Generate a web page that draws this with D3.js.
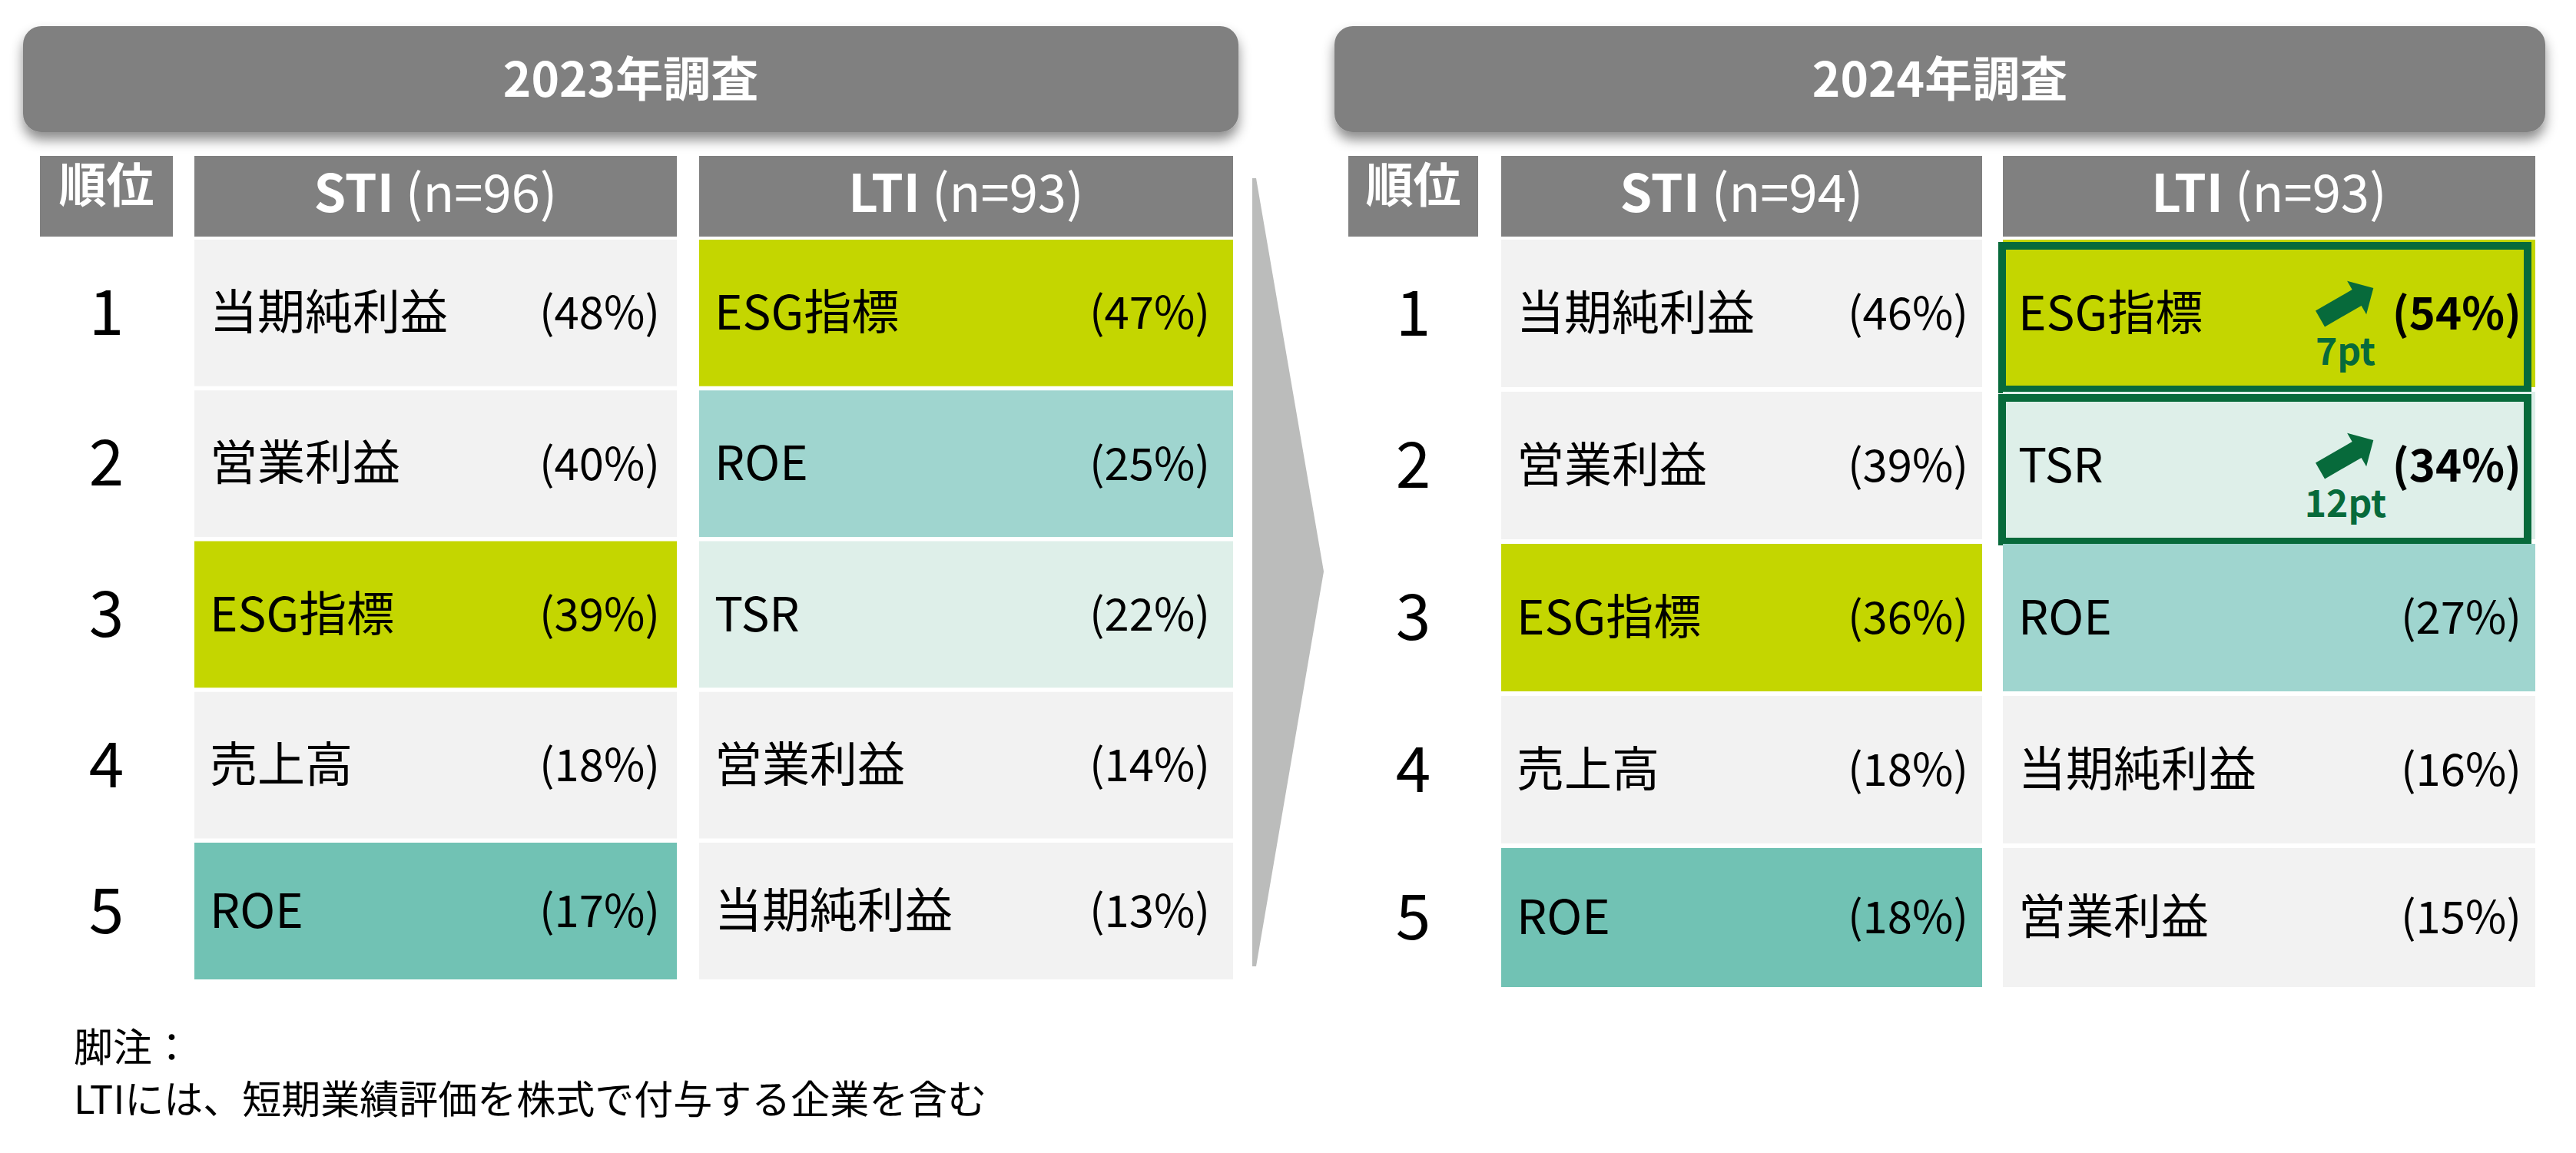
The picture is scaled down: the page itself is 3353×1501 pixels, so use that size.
<!DOCTYPE html>
<html>
<head>
<meta charset="utf-8">
<script src="https://cdn.jsdelivr.net/npm/d3@7"></script>
<style>
  body { margin: 0; background: #fff; }
  text { font-family: "Noto Sans CJK JP", "Noto Sans", sans-serif; }
</style>
</head>
<body>
<div class="chart"></div>
<script>
var width = 3353;
var height = 1501;

// data
var panelTitles = ["2023年調査", "2024年調査"];
var ranks = [1, 2, 3, 4, 5];
var stiN = [96, 94];
var ltiN = [93, 93];

var sti2023Labels = ["当期純利益", "営業利益", "ESG指標", "売上高", "ROE"];
var sti2023Values = [48, 40, 39, 18, 17];
var lti2023Labels = ["ESG指標", "ROE", "TSR", "営業利益", "当期純利益"];
var lti2023Values = [47, 25, 22, 14, 13];

var sti2024Labels = ["当期純利益", "営業利益", "ESG指標", "売上高", "ROE"];
var sti2024Values = [46, 39, 36, 18, 18];
var lti2024Labels = ["ESG指標", "TSR", "ROE", "当期純利益", "営業利益"];
var lti2024Values = [54, 34, 27, 16, 15];

// 2024 LTI risers (pt up vs 2023)
var riseLabels = ["ESG指標", "TSR"];
var riseValues = [7, 12];

var footnoteLines = ["脚注：", "LTIには、短期業績評価を株式で付与する企業を含む"];

// layout
var panels = [
  { banner: [30, 1612], rank: [52, 225], sti: [253, 881], lti: [910, 1605],
    rowRange: [312, 1287.75], gap: 5.5, bottom: 1275, padR: { sti: 22, lti: 30 },
    stiLabels: sti2023Labels, stiValues: sti2023Values,
    ltiLabels: lti2023Labels, ltiValues: lti2023Values, highlight: false },
  { banner: [1737, 3313], rank: [1755, 1924], sti: [1954, 2580], lti: [2607, 3300],
    rowRange: [312, 1296], gap: 6, bottom: 1285, padR: { sti: 18, lti: 18 },
    stiLabels: sti2024Labels, stiValues: sti2024Values,
    ltiLabels: lti2024Labels, ltiValues: lti2024Values, highlight: true }
];

var headerTop = 203, headerBottom = 308;
var bannerTop = 34, bannerBottom = 172;

var greyHead = "#808080";
var green = "#076a3b";

function cellColor(label, kind) {
  if (label === "ESG指標") return "#c4d600";
  if (label === "ROE") return kind === "sti" ? "#71c2b4" : "#9fd5cf";
  if (label === "TSR") return "#deefe9";
  return "#f2f2f2";
}

var svg = d3.select(".chart").append("svg")
    .attr("width", width)
    .attr("height", height);

var defs = svg.append("defs");
var shadow = defs.append("filter").attr("id", "shadow")
    .attr("x", "-5%").attr("y", "-20%").attr("width", "110%").attr("height", "160%");
shadow.append("feDropShadow")
    .attr("dx", 0).attr("dy", 10).attr("stdDeviation", 8)
    .attr("flood-color", "#000").attr("flood-opacity", 0.45);

// chevron between the two years
svg.append("path")
    .attr("d", "M1630,232 L1635,232 L1723,744 L1635,1258 L1630,1258 Z")
    .attr("fill", "#bbbcbb");

panels.forEach(function(p, pi) {
  var g = svg.append("g").attr("class", "panel");

  // banner
  g.append("rect")
      .attr("x", p.banner[0]).attr("y", bannerTop)
      .attr("width", p.banner[1] - p.banner[0]).attr("height", bannerBottom - bannerTop)
      .attr("rx", 24).attr("ry", 24)
      .attr("fill", greyHead)
      .attr("filter", "url(#shadow)");
  g.append("text")
      .attr("x", (p.banner[0] + p.banner[1]) / 2).attr("y", 104)
      .attr("dy", "0.36em")
      .attr("text-anchor", "middle")
      .attr("fill", "#fff").attr("font-size", 62).attr("font-weight", 700)
      .text(panelTitles[pi]);

  // header row
  var heads = [
    { col: p.rank, kind: "rank" },
    { col: p.sti, kind: "sti", name: "STI", n: stiN[pi] },
    { col: p.lti, kind: "lti", name: "LTI", n: ltiN[pi] }
  ];
  heads.forEach(function(h) {
    g.append("rect")
        .attr("x", h.col[0]).attr("y", headerTop)
        .attr("width", h.col[1] - h.col[0]).attr("height", headerBottom - headerTop)
        .attr("fill", greyHead);
    if (h.kind === "rank") {
      g.append("text")
          .attr("x", (h.col[0] + h.col[1]) / 2).attr("y", 242)
          .attr("dy", "0.36em").attr("text-anchor", "middle")
          .attr("fill", "#fff").attr("font-size", 62).attr("font-weight", 700)
          .text("順位");
    } else {
      var t = g.append("text")
          .attr("x", (h.col[0] + h.col[1]) / 2).attr("y", 253)
          .attr("dy", "0.35em").attr("text-anchor", "middle")
          .attr("fill", "#fff").attr("font-size", 67);
      t.append("tspan").attr("font-weight", 700).text(h.name);
      t.append("tspan").text(" (n=" + h.n + ")");
    }
  });

  // rows
  var y = d3.scaleBand()
      .domain(ranks)
      .range(p.rowRange)
      .paddingInner(p.gap / ((p.rowRange[1] - p.rowRange[0] + p.gap) / ranks.length))
      .paddingOuter(0);

  function rowH(r) { return Math.min(y.bandwidth(), p.bottom - y(r)); }
  function rowMid(r) { return y(r) + rowH(r) / 2; }

  g.selectAll(".rank")
    .data(ranks)
    .enter().append("text")
      .attr("class", "rank")
      .attr("x", (p.rank[0] + p.rank[1]) / 2)
      .attr("y", function(d) { return rowMid(d); })
      .attr("dy", "0.35em").attr("text-anchor", "middle")
      .attr("font-size", 82).attr("fill", "#000")
      .text(function(d) { return d; });

  [["sti", p.stiLabels, p.stiValues], ["lti", p.ltiLabels, p.ltiValues]].forEach(function(c) {
    var kind = c[0], col = p[kind];
    var rows = ranks.map(function(r, i) { return { rank: r, label: c[1][i], value: c[2][i] }; });
    var cells = g.selectAll(".cell-" + kind)
      .data(rows)
      .enter().append("g")
        .attr("class", "cell-" + kind);

    cells.append("rect")
        .attr("x", col[0])
        .attr("y", function(d) { return y(d.rank); })
        .attr("width", col[1] - col[0])
        .attr("height", function(d) { return rowH(d.rank); })
        .attr("fill", function(d) { return cellColor(d.label, kind); });

    cells.append("text")
        .attr("x", col[0] + 20)
        .attr("y", function(d) { return rowMid(d.rank); })
        .attr("dy", "0.35em")
        .attr("font-size", 62).attr("fill", "#000")
        .text(function(d) { return d.label; });

    var isRiser = function(d) {
      return p.highlight && kind === "lti" && riseLabels.indexOf(d.label) >= 0;
    };

    cells.append("text")
        .attr("x", col[1] - p.padR[kind])
        .attr("y", function(d) { return rowMid(d.rank); })
        .attr("dy", "0.36em").attr("text-anchor", "end")
        .attr("font-size", 58).attr("fill", "#000")
        .attr("font-weight", function(d) { return isRiser(d) ? 700 : 400; })
        .text(function(d) { return "(" + d.value + "%)"; });

    // rise markers: green frame, arrow, pt label
    var risers = cells.filter(isRiser);
    risers.append("rect")
        .attr("x", col[0] - 1)
        .attr("y", function(d) { return y(d.rank) + 8; })
        .attr("width", col[1] - col[0] - 9)
        .attr("height", function(d) { return rowH(d.rank) - 5; })
        .attr("fill", "none")
        .attr("stroke", green).attr("stroke-width", 10);
    risers.append("path")
        .attr("d", "M0,-12 L55,-12 L55,-25 L80,0 L55,25 L55,12 L0,12 Z")
        .attr("fill", green)
        .attr("transform", function(d) {
          return "translate(" + (col[1] - 280) + "," + (y(d.rank) + 103) + ") rotate(-30)";
        });
    risers.append("text")
        .attr("x", col[1] - 247)
        .attr("y", function(d) { return y(d.rank) + 163; })
        .attr("text-anchor", "middle")
        .attr("font-size", 48).attr("font-weight", 700).attr("fill", green)
        .text(function(d) { return riseValues[riseLabels.indexOf(d.label)] + "pt"; });
  });
});

// footnote
svg.append("g").attr("class", "footnote")
  .selectAll("text")
  .data(footnoteLines)
  .enter().append("text")
    .attr("x", 96)
    .attr("y", function(d, i) { return 1364 + i * 68; })
    .attr("dy", "0.36em")
    .attr("font-size", 51).attr("fill", "#000")
    .text(function(d) { return d; });
</script>
</body>
</html>
